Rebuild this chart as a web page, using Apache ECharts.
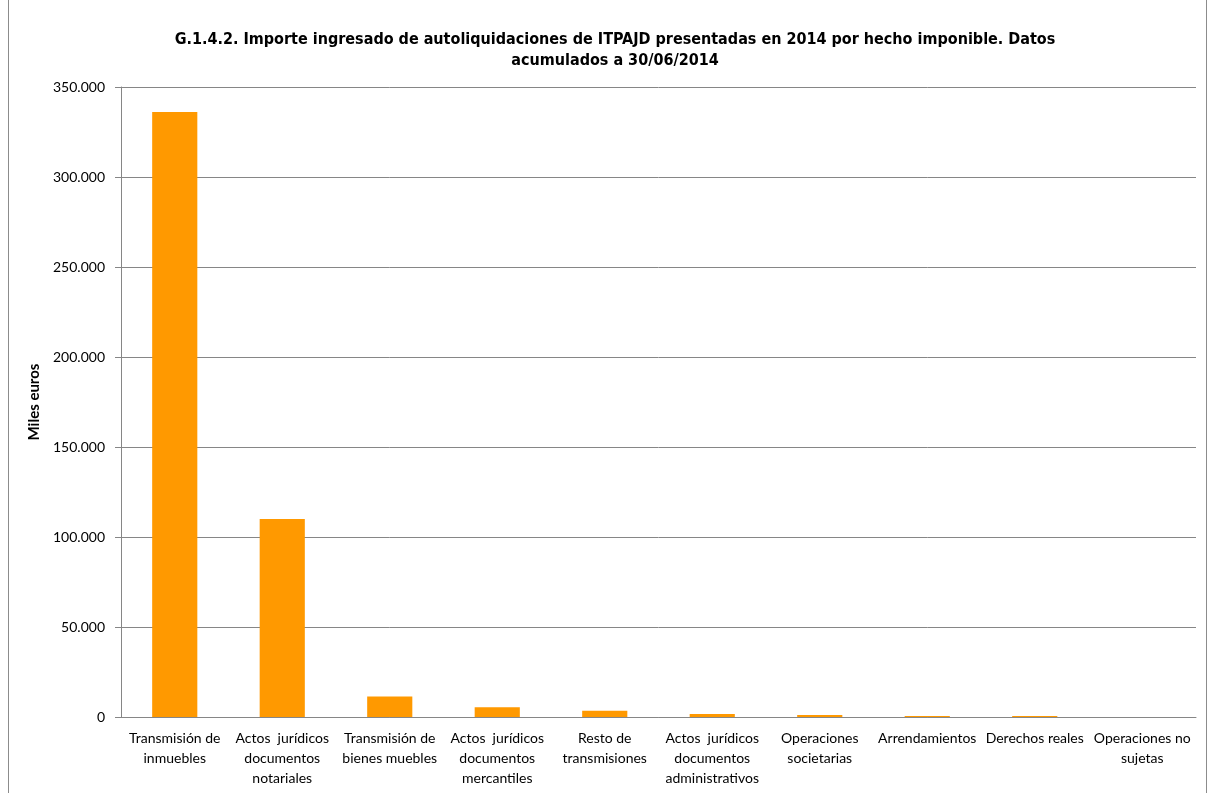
<!DOCTYPE html>
<html><head><meta charset="utf-8">
<script src="https://cdn.jsdelivr.net/npm/echarts@6/dist/echarts.min.js"></script>
<style>html,body{margin:0;padding:0;background:#fff}#c{width:1215px;height:793px}
#frame{position:absolute;left:8px;top:-2px;width:1197px;height:800px;border:1px solid #8c8c8c;pointer-events:none}</style>
</head><body><div id="c"></div><div id="frame"></div>
<script>
const titleText = "G.1.4.2. Importe ingresado de autoliquidaciones de ITPAJD presentadas en 2014 por hecho imponible. Datos\nacumulados a 30/06/2014";
const yAxisName = "Miles euros";
const categories = [
  "Transmisión de\ninmuebles",
  "Actos  jurídicos\ndocumentos\nnotariales",
  "Transmisión de\nbienes muebles",
  "Actos  jurídicos\ndocumentos\nmercantiles",
  "Resto de\ntransmisiones",
  "Actos  jurídicos\ndocumentos\nadministrativos",
  "Operaciones\nsocietarias",
  "Arrendamientos",
  "Derechos reales",
  "Operaciones no\nsujetas"
];
const values = [336100, 110000, 11400, 5400, 3500, 1700, 1100, 560, 560, 0];
const yMin = 0, yMax = 350000, yInterval = 50000;

const chart = echarts.init(document.getElementById('c'));
const fmt = v => v === 0 ? '0' : String(v).replace(/\B(?=(\d{3})+(?!\d))/g, '.');
chart.setOption({
  animation: false,
  title: {
    text: titleText, left: 610, textAlign: 'center', top: 24,
    textStyle: {fontFamily: '"Liberation Sans Narrow","DejaVu Sans Condensed",sans-serif', fontWeight: 'bold', fontSize: 16, color: '#000', lineHeight: 21}
  },
  grid: {left: 121, right: 19, top: 87, bottom: 76, containLabel: false},
  xAxis: {
    type: 'category', data: categories,
    axisLine: {lineStyle: {color: '#868686', width: 1}},
    axisTick: {show: false},
    axisLabel: {interval: 0, margin: 11, color: '#000', fontFamily: 'Lato, "Open Sans", sans-serif', fontSize: 14, lineHeight: 20, align: 'center'}
  },
  yAxis: {
    type: 'value', min: yMin, max: yMax, interval: yInterval,
    name: yAxisName, nameLocation: 'middle', nameGap: 77, nameRotate: 90,
    nameTextStyle: {fontFamily: 'Lato, "Open Sans", sans-serif', fontWeight: 'bold', fontSize: 15, color: '#000'},
    axisLine: {show: true, lineStyle: {color: '#868686'}},
    axisTick: {show: true, length: 6, lineStyle: {color: '#868686'}},
    splitLine: {lineStyle: {color: '#868686', width: 1}},
    axisLabel: {formatter: fmt, margin: 16, color: '#000', fontFamily: 'Lato, "Open Sans", sans-serif', fontSize: 14}
  },
  series: [{
    type: 'bar', data: values, barWidth: '42%',
    itemStyle: {color: '#FF9900', borderWidth: 0}
  }]
});
</script></body></html>
